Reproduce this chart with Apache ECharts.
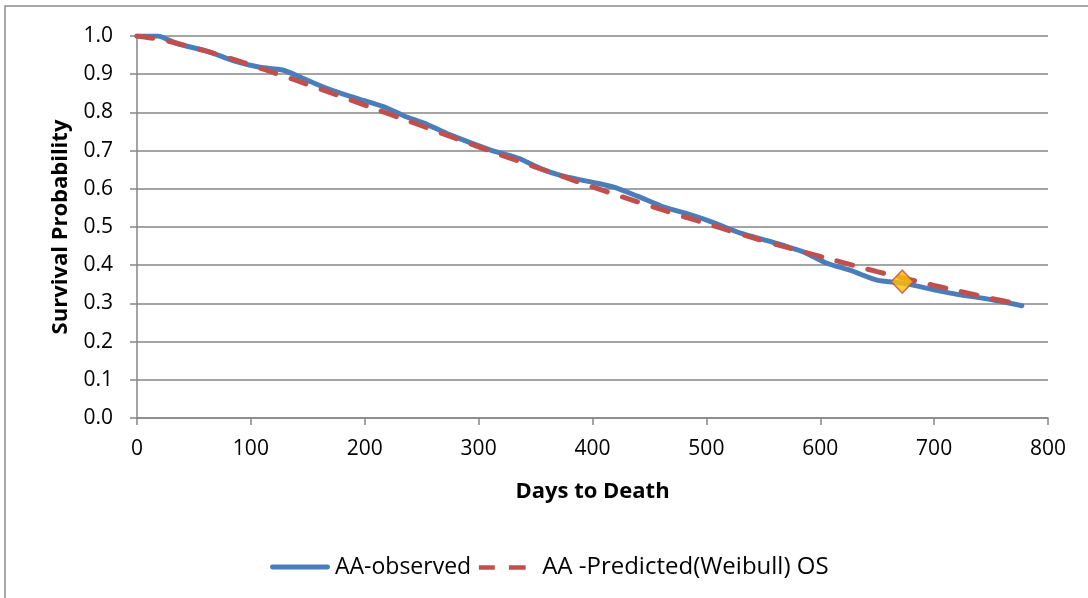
<!DOCTYPE html>
<html>
<head>
<meta charset="utf-8">
<script src="https://cdn.jsdelivr.net/npm/echarts@6/dist/echarts.min.js"></script>
<style>
  html, body { margin: 0; padding: 0; background: #ffffff; }
  #chart { width: 1088px; height: 598px; }
</style>
</head>
<body>
<div id="chart"></div>
<script>
// Kaplan-Meier style survival: observed curve vs. Weibull-predicted overall survival
const observedDays = [0, 18, 35, 62, 85, 108, 128, 145, 170, 195, 219, 235, 252, 275, 310, 335, 355, 372, 395, 418, 440, 462, 485, 505, 530, 555, 585, 606, 626, 650, 672, 714, 750, 777];
const observedSurv = [1.0, 1.0, 0.98, 0.96, 0.935, 0.918, 0.911, 0.89, 0.859, 0.835, 0.812, 0.79, 0.772, 0.741, 0.702, 0.68, 0.652, 0.635, 0.62, 0.605, 0.58, 0.553, 0.533, 0.513, 0.484, 0.463, 0.435, 0.405, 0.387, 0.361, 0.353, 0.327, 0.31, 0.294];

const predictedDays = [0, 25, 50, 75, 100, 125, 150, 175, 200, 225, 250, 275, 300, 325, 350, 375, 400, 425, 450, 475, 500, 525, 550, 575, 600, 625, 650, 675, 700, 725, 750, 770];
const predictedSurv = [1.0, 0.988, 0.969, 0.948, 0.924, 0.899, 0.873, 0.846, 0.819, 0.792, 0.765, 0.737, 0.71, 0.683, 0.657, 0.631, 0.605, 0.58, 0.556, 0.532, 0.509, 0.486, 0.464, 0.443, 0.423, 0.403, 0.383, 0.365, 0.347, 0.33, 0.313, 0.301];

// highlighted point on the predicted curve
const markerPoint = [672, 0.357];

const xTicks = { min: 0, max: 800, interval: 100 };
const yTicks = { min: 0, max: 1, interval: 0.1 };

const seriesNames = ['AA-observed', 'AA -Predicted(Weibull) OS'];

const zip = (xs, ys) => xs.map((x, i) => [x, ys[i]]);

const FONT = '"Open Sans", "Liberation Sans", sans-serif';
const GRID_COLOR = '#868686';
const BLUE = '#4a7ebb';
const RED = '#c0504d';

// legend glyphs: a solid bar and a pair of dashes (the dashed one keeps a gap before its text)
const ICON_SOLID = 'path://M2,0 L58,0 A2,2 0 0 1 58,5 L2,5 A2,2 0 0 1 2,0 Z';
const ICON_DASHED = 'path://M0,0 L68,0 L68,0.01 L0,0.01 Z M2,1 L20,1 L20,6 L2,6 Z M36,1 L55,1 L55,6 L36,6 Z';

const chart = echarts.init(document.getElementById('chart'), null, { renderer: 'canvas' });

chart.setOption({
  backgroundColor: '#ffffff',
  animation: false,
  graphic: [{
    type: 'rect',
    shape: { x: 5, y: 6, width: 1300, height: 900 },
    style: { fill: 'none', stroke: '#8c8c8c', lineWidth: 1.5 },
    silent: true,
    z: -1
  }],
  grid: { left: 137, right: 40, top: 36, bottom: 180 },
  legend: {
    data: [
      { name: seriesNames[0], icon: ICON_SOLID, textStyle: { fontSize: 23 } },
      { name: seriesNames[1], icon: ICON_DASHED, textStyle: { fontSize: 24 } }
    ],
    top: 550,
    left: 265,
    itemWidth: 60,
    itemHeight: 6,
    itemGap: 6,
    textStyle: { fontFamily: FONT, fontSize: 23, color: '#000' }
  },
  xAxis: {
    type: 'value',
    min: xTicks.min, max: xTicks.max, interval: xTicks.interval,
    name: 'Days to Death',
    nameLocation: 'middle',
    nameGap: 63,
    nameTextStyle: { fontFamily: FONT, fontSize: 22, fontWeight: 'bold', color: '#000' },
    axisLine: { show: true, lineStyle: { color: GRID_COLOR, width: 1.5 } },
    axisTick: { show: true, inside: false, length: 7, lineStyle: { color: GRID_COLOR, width: 1.5 } },
    axisLabel: { margin: 21, fontFamily: FONT, fontSize: 21, color: '#000' },
    splitLine: { show: false }
  },
  yAxis: {
    type: 'value',
    min: yTicks.min, max: yTicks.max, interval: yTicks.interval,
    name: 'Survival Probability',
    nameLocation: 'middle',
    nameGap: 65,
    nameTextStyle: { fontFamily: FONT, fontSize: 22, fontWeight: 'bold', color: '#000' },
    axisLine: { show: true, lineStyle: { color: GRID_COLOR, width: 1.5 } },
    axisTick: { show: true, inside: false, length: 7, lineStyle: { color: GRID_COLOR, width: 1.5 } },
    axisLabel: {
      margin: 24, fontFamily: FONT, fontSize: 21, color: '#000',
      formatter: v => v.toFixed(1)
    },
    splitLine: { show: true, lineStyle: { color: GRID_COLOR, width: 1.5 } }
  },
  series: [
    {
      name: seriesNames[0],
      type: 'line',
      data: zip(observedDays, observedSurv),
      symbol: 'none',
      smooth: 0.25,
      lineStyle: { color: BLUE, width: 5, cap: 'round', join: 'round' },
      itemStyle: { color: BLUE },
      z: 2
    },
    {
      name: seriesNames[1],
      type: 'line',
      data: zip(predictedDays, predictedSurv),
      symbol: 'none',
      smooth: true,
      lineStyle: { color: RED, width: 5, type: [16, 16], cap: 'round' },
      itemStyle: { color: RED },
      z: 3
    },
    {
      name: 'marker',
      type: 'scatter',
      data: [markerPoint],
      symbol: 'diamond',
      symbolSize: [22, 23],
      itemStyle: { color: '#ffc000', borderColor: RED, borderWidth: 1.5 },
      z: 4
    }
  ]
});
</script>
</body>
</html>
